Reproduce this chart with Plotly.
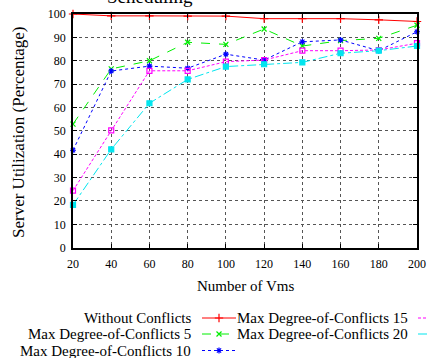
import plotly.graph_objects as go

vms = [20, 40, 60, 80, 100, 120, 140, 160, 180, 200]
without_conflicts = [100, 99.2, 99.2, 99.1, 99.1, 98.0, 98.0, 98.0, 97.5, 96.8]
mdoc5 = [52.9, 76.5, 80.0, 87.9, 87.0, 93.6, 86.3, 88.6, 89.6, 95.2]
mdoc10 = [41.7, 75.6, 77.7, 76.8, 82.8, 80.3, 88.1, 88.9, 84.3, 92.4]
mdoc15 = [24.4, 50.2, 75.7, 75.7, 79.6, 80.3, 84.3, 84.3, 84.6, 87.5]
mdoc20 = [18.3, 42.1, 61.8, 72.0, 77.5, 78.5, 79.3, 83.2, 84.3, 86.3]

series_names = ["Without Conflicts", "Max Degree-of-Conflicts 5", "Max Degree-of-Conflicts 10",
                "Max Degree-of-Conflicts 15", "Max Degree-of-Conflicts 20"]
series_vals = [without_conflicts, mdoc5, mdoc10, mdoc15, mdoc20]
x_ticks = [20, 40, 60, 80, 100, 120, 140, 160, 180, 200]
y_ticks = [0, 10, 20, 30, 40, 50, 60, 70, 80, 90, 100]

W, H = 427, 358
L, R, T, B = 73, 417, 14, 247.7
FONT = "Liberation Serif"

styles = [
    dict(color="#ff0000", dash="solid", symbol="cross-thin", size=6),
    dict(color="#00ee00", dash="dash", symbol="x-thin", size=5),
    dict(color="#0000ff", dash="dot", symbol="asterisk", size=5),
    dict(color="#ff00ff", dash="3px,2px", symbol="square-open", size=5),
    dict(color="#00e5ee", dash="dashdot", symbol="square", size=5),
]

fig = go.Figure()

for name, vals, st in zip(series_names, series_vals, styles):
    marker = dict(symbol=st["symbol"], size=st["size"], color=st["color"],
                  line=dict(color=st["color"], width=1.2))
    fig.add_trace(go.Scatter(x=vms, y=vals, mode="lines+markers", name=name,
                             line=dict(color=st["color"], width=1, dash=st["dash"]),
                             marker=marker, cliponaxis=False, showlegend=False,
                             xaxis="x", yaxis="y"))

# custom gnuplot-style legend (samples in pixel-like coordinates on a hidden axis)
leg_rows = [318, 334, 350.5]
positions = [(0, 0), (1, 0), (2, 0), (0, 1), (1, 1)]
text_right = [193, 410]
sample_x = [(202, 236), (418, 452)]
for (row, col), name, st in zip(positions, series_names, styles):
    y = leg_rows[row]
    x0, x1 = sample_x[col]
    fig.add_trace(go.Scatter(x=[x0, x1], y=[y, y], mode="lines",
                             line=dict(color=st["color"], width=1, dash=st["dash"]),
                             showlegend=False, xaxis="x2", yaxis="y2", hoverinfo="skip"))
    fig.add_trace(go.Scatter(x=[(x0 + x1) / 2], y=[y], mode="markers",
                             marker=dict(symbol=st["symbol"], size=st["size"], color=st["color"],
                                         line=dict(color=st["color"], width=1.2)),
                             showlegend=False, xaxis="x2", yaxis="y2", hoverinfo="skip",
                             cliponaxis=False))
    fig.add_annotation(x=text_right[col], y=y, xref="x2", yref="y2", text=name,
                       showarrow=False, xanchor="right", yanchor="middle",
                       font=dict(family=FONT, size=15, color="black"))

# title (cut off at top in the reference)
fig.add_annotation(x=150, y=9, xref="x2", yref="y2", text="Scheduling", showarrow=False,
                   xanchor="center", yanchor="bottom", font=dict(family=FONT, size=19, color="black"))
fig.add_annotation(x=245, y=286, xref="x2", yref="y2", text="Number of Vms", showarrow=False,
                   xanchor="center", yanchor="middle", font=dict(family=FONT, size=15, color="black"))
fig.add_annotation(x=18, y=133, xref="x2", yref="y2", text="Server Utilization (Percentage)",
                   showarrow=False, textangle=-90, xanchor="center", yanchor="middle",
                   font=dict(family=FONT, size=17, color="black"))

grid = dict(showgrid=True, gridcolor="#555555", griddash="dot", gridwidth=1)
fig.update_layout(
    width=W, height=H, margin=dict(l=0, r=0, t=0, b=0),
    paper_bgcolor="white", plot_bgcolor="rgba(0,0,0,0)",
    font=dict(family=FONT, size=12, color="black"),
    xaxis=dict(domain=[L / W, R / W], range=[20, 200], tickvals=x_ticks,
               ticks="inside", ticklen=4, tickcolor="black", showline=True, linecolor="black",
               linewidth=1.5, mirror="ticks", zeroline=False, automargin=False,
               ticklabelstandoff=4,
               tickfont=dict(family=FONT, size=12), **grid),
    yaxis=dict(domain=[(H - B) / H, (H - T) / H], range=[0, 100], tickvals=y_ticks,
               ticks="inside", ticklen=4, tickcolor="black", showline=True, linecolor="black",
               linewidth=1.5, mirror="ticks", zeroline=False, automargin=False,
               ticklabelstandoff=3,
               tickfont=dict(family=FONT, size=12), **grid),
    xaxis2=dict(domain=[0, 1], range=[0, W], visible=False, fixedrange=True, anchor="y2"),
    yaxis2=dict(domain=[0, 1], range=[H, 0], visible=False, fixedrange=True, anchor="x2"),
)

fig.write_html("out.html")
